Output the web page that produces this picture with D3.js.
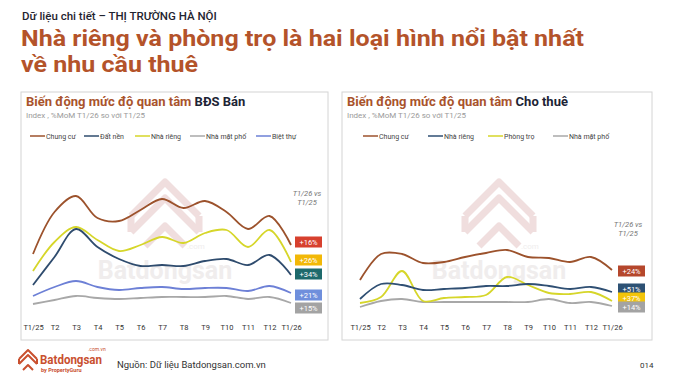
<!DOCTYPE html>
<html>
<head>
<meta charset="utf-8">
<script src="https://cdn.jsdelivr.net/npm/d3@7"></script>
<style>
  body { margin: 0; background: #fff; }
  svg { font-family: Roboto, "Noto Sans", sans-serif; display: block; }
</style>
</head>
<body>
<div id="chart"></div>
<script>
// months shared by both panels
const months = ['T1/25', 'T2', 'T3', 'T4', 'T5', 'T6', 'T7', 'T8', 'T9', 'T10', 'T11', 'T12', 'T1/26'];

// BDS Ban (index values)
const saleNames = ['Chung cư', 'Đất nền', 'Nhà riêng', 'Nhà mặt phố', 'Biệt thự'];
const saleChungCu = [56, 98, 114, 92, 89, 100, 111, 102, 109, 98, 81, 94, 65];
const saleDatNen = [25, 53, 81, 63, 51, 44, 45, 44, 49, 51, 45, 55, 35];
const saleNhaRieng = [39, 68, 83, 70, 59, 65, 73, 67, 77, 80, 63, 80, 48];
const saleMatPho = [6, 10, 14, 12, 11, 12, 13, 13, 13, 14, 11, 13, 7];
const saleBietThu = [14, 23, 29, 23, 20, 22, 23, 21, 22, 22, 19, 24, 17];
const saleBadges = ['+16%', '+26%', '+34%', '+21%', '+15%'];

// Cho thue
const rentNames = ['Chung cư', 'Nhà riêng', 'Phòng trọ', 'Nhà mặt phố'];
const rentChungCu = [30, 56, 56, 47, 48, 53, 57, 60, 53, 52, 48, 53, 40];
const rentNhaRieng = [11, 26, 25, 20, 21, 22, 24, 24, 26, 24, 21, 23, 18];
const rentPhongTro = [7, 13, 39, 9, 12, 13, 15, 33, 25, 17, 16, 18, 9];
const rentMatPho = [3, 9, 11, 8, 8, 8, 8, 8, 8, 11, 7, 8, 4];
const rentBadges = ['+24%', '+51%', '+37%', '+14%'];

const W = 680, H = 379;
const svg = d3.select('#chart').append('svg').attr('width', W).attr('height', H);

// header
svg.append('text').attr('x', 22).attr('y', 20)
    .attr('font-size', 11.5).attr('font-weight', 500).attr('fill', '#1f2430')
    .text('Dữ liệu chi tiết – THỊ TRƯỜNG HÀ NỘI');
const titleCol = '#b4532a';
let titleLines = svg.selectAll('.title-line')
    .data(['Nhà riêng và phòng trọ là hai loại hình nổi bật nhất', 'về nhu cầu thuê'])
    .join('text').attr('class', 'title-line')
    .attr('x', 21).attr('y', (d, i) => 46 + i * 26)
    .attr('font-size', 22).attr('font-weight', 700).attr('fill', titleCol)
    .text(d => d);
// stretch the title a bit wider, like the source font
let stretch = 563 / titleLines.node().getComputedTextLength();
titleLines.each(function() {
    d3.select(this).attr('textLength', this.getComputedTextLength() * stretch)
        .attr('lengthAdjust', 'spacingAndGlyphs');
});

function watermark(g, cx, cy) {
    let wm = g.append('g').attr('opacity', 0.5);
    let ic = wm.append('g').attr('transform', `translate(${cx},${cy - 35})`)
        .attr('fill', 'none').attr('stroke', '#e2bfbf').attr('stroke-width', 7)
        .attr('stroke-linejoin', 'round');
    ic.append('path').attr('d', 'M-34,6 L0,-28 L34,6');
    ic.append('path').attr('d', 'M-34,22 L0,-12 L34,22');
    ic.append('path').attr('d', 'M-20,36 L0,16 L20,36');
    ic.append('path').attr('d', 'M-34,6 L-34,22 M34,6 L34,22');
    wm.append('text').attr('x', cx).attr('y', cy + 34).attr('text-anchor', 'middle')
        .attr('font-size', 25).attr('font-weight', 700).attr('fill', '#e2dcdc')
        .text('Batdongsan');
    wm.append('text').attr('x', cx + 22).attr('y', cy + 4)
        .attr('font-size', 8).attr('fill', '#e2dcdc').text('.com');
}

function panel(opt) {
    let g = svg.append('g');
    g.append('rect').attr('x', opt.x0).attr('y', 92).attr('width', opt.x1 - opt.x0).attr('height', 248)
        .attr('fill', '#fff').attr('stroke', '#d4d4d4').attr('stroke-width', 1);

    watermark(g, opt.wmx, opt.wmy);

    // title
    let t = g.append('text').attr('x', opt.x0 + 5).attr('y', 106)
        .attr('font-size', 13).attr('font-weight', 700);
    t.append('tspan').attr('fill', '#a9532c').text('Biến động mức độ quan tâm ');
    t.append('tspan').attr('fill', '#1d2435').text(opt.title);
    g.append('text').attr('x', opt.x0 + 5).attr('y', 118)
        .attr('font-size', 8).attr('fill', '#9a9a9a')
        .text('Index , %MoM T1/26 so với T1/25');

    // legend
    opt.series.forEach((s, i) => {
        let lx = opt.legendX[i];
        g.append('line').attr('x1', lx).attr('x2', lx + 15).attr('y1', 136).attr('y2', 136)
            .attr('stroke', s.color).attr('stroke-width', 1.5);
        g.append('text').attr('x', lx + 16).attr('y', 138.5).attr('font-size', 7)
            .attr('fill', '#444').text(s.name);
    });

    let x = d3.scalePoint().domain(months).range(opt.xr);
    let y = d3.scaleLinear().domain([0, 120]).range([310, 190]);

    let axis = g.append('g').attr('transform', 'translate(0,318)')
        .call(d3.axisBottom(x).tickSize(0).tickPadding(7));
    axis.select('.domain').remove();
    axis.selectAll('text').attr('font-size', 7.5).attr('fill', '#333')
        .attr('font-family', 'Roboto, sans-serif');

    let line = d3.line()
        .x((d, i) => x(months[i]))
        .y(d => y(d))
        .curve(d3.curveCatmullRom.alpha(0.5));

    // draw back-to-front
    opt.series.slice().reverse().forEach(s => {
        g.append('path').datum(s.values).attr('d', line)
            .attr('fill', 'none').attr('stroke', s.color).attr('stroke-width', 1.8);
    });

    // "T1/26 vs T1/25"
    g.append('text').attr('x', opt.noteX).attr('y', opt.noteY).attr('text-anchor', 'middle')
        .attr('font-size', 7.5).attr('font-style', 'italic').attr('fill', '#777')
        .selectAll('tspan').data(['T1/26 vs', 'T1/25']).join('tspan')
        .attr('x', opt.noteX).attr('dy', (d, i) => i ? 9 : 0).text(d => d);

    // badges
    opt.badges.forEach((b, i) => {
        let by = opt.badgeY[i];
        g.append('rect').attr('x', opt.badgeX).attr('y', by - 5.5).attr('width', 27).attr('height', 11)
            .attr('fill', opt.badgeCol[i]);
        g.append('text').attr('x', opt.badgeX + 13.5).attr('y', by + 3)
            .attr('text-anchor', 'middle').attr('font-size', 7.5).attr('fill', '#fff').text(b);
    });
}

panel({
    x0: 21, x1: 328, wmx: 165, wmy: 245,
    title: 'BĐS Bán',
    series: [
        { name: saleNames[0], values: saleChungCu, color: '#9c522c' },
        { name: saleNames[1], values: saleDatNen, color: '#2f4c6e' },
        { name: saleNames[2], values: saleNhaRieng, color: '#d6d62a' },
        { name: saleNames[3], values: saleMatPho, color: '#a8a8a8' },
        { name: saleNames[4], values: saleBietThu, color: '#6d80d6' }
    ],
    legendX: [30, 84, 135, 190, 256],
    xr: [33, 291],
    noteX: 307, noteY: 196,
    badges: saleBadges, badgeX: 295,
    badgeY: [242, 260, 274, 295, 308],
    badgeCol: ['#d7402e', '#f2b807', '#1e6a6c', '#6f8fdc', '#a3a3a3']
});

panel({
    x0: 342, x1: 652, wmx: 499, wmy: 245,
    title: 'Cho thuê',
    series: [
        { name: rentNames[0], values: rentChungCu, color: '#9c522c' },
        { name: rentNames[1], values: rentNhaRieng, color: '#2f4f73' },
        { name: rentNames[2], values: rentPhongTro, color: '#d6d62a' },
        { name: rentNames[3], values: rentMatPho, color: '#a8a8a8' }
    ],
    legendX: [363, 428, 488, 553],
    xr: [360, 612],
    noteX: 628, noteY: 227,
    badges: rentBadges, badgeX: 618,
    badgeY: [271, 289, 298, 307],
    badgeCol: ['#b5472c', '#2d5174', '#f2c40a', '#a3a3a3']
});

// footer
let logo = svg.append('g').attr('transform', 'translate(28,360)')
    .attr('fill', 'none').attr('stroke', '#c9502f').attr('stroke-width', 2).attr('stroke-linejoin', 'round');
logo.append('path').attr('d', 'M-9,-1 L0,-10 L9,-1');
logo.append('path').attr('d', 'M-9,4 L0,-5 L9,4');
logo.append('path').attr('d', 'M-5,10 L0,5 L5,10');
logo.append('path').attr('d', 'M-9,-1 L-9,4 M9,-1 L9,4');
svg.append('text').attr('x', 40).attr('y', 364).attr('font-size', 13).attr('font-weight', 700)
    .attr('textLength', 62).attr('lengthAdjust', 'spacingAndGlyphs')
    .attr('fill', '#c9502f').text('Batdongsan');
svg.append('text').attr('x', 88).attr('y', 351).attr('font-size', 5).attr('fill', '#c9502f').text('.com.vn');
svg.append('text').attr('x', 41).attr('y', 372).attr('font-size', 5.5).attr('font-weight', 700)
    .attr('fill', '#c9502f').text('by PropertyGuru');
svg.append('text').attr('x', 117).attr('y', 368).attr('font-size', 9.5).attr('fill', '#333')
    .text('Nguồn: Dữ liệu Batdongsan.com.vn');
svg.append('text').attr('x', 640).attr('y', 368).attr('font-size', 8).attr('fill', '#333').text('014');
</script>
</body>
</html>
